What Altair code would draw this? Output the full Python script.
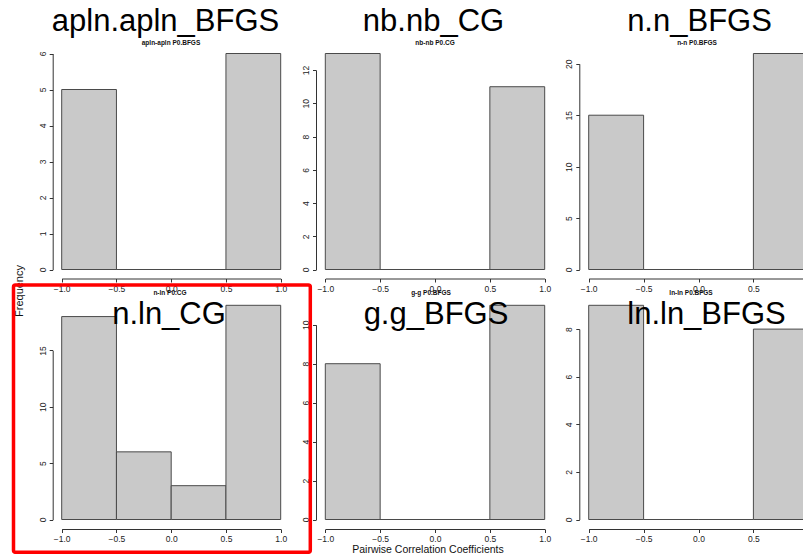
import altair as alt
import pandas as pd

# ---------------- data ----------------
bin_edges = [-1.0, -0.5, 0.0, 0.5, 1.0]
panel_titles = ["apln.apln_BFGS", "nb.nb_CG", "n.n_BFGS", "n.ln_CG", "g.g_BFGS", "ln.ln_BFGS"]
panel_subtitles = ["apln-apln P0.BFGS", "nb-nb P0.CG", "n-n P0.BFGS",
                   "n-ln P0.CG", "g-g P0.BFGS", "ln-ln P0.BFGS"]
counts_apln = [5, 0, 0, 6]
counts_nb = [13, 0, 0, 11]
counts_n = [15, 0, 0, 21]
counts_nln = [18, 6, 3, 19]
counts_g = [8, 0, 0, 11]
counts_ln = [9, 0, 0, 8]
all_counts = [counts_apln, counts_nb, counts_n, counts_nln, counts_g, counts_ln]
y_ticks = [[0, 1, 2, 3, 4, 5, 6], [0, 2, 4, 6, 8, 10, 12], [0, 5, 10, 15, 20],
           [0, 5, 10, 15], [0, 2, 4, 6, 8, 10], [0, 2, 4, 6, 8]]
x_ticks = [-1.0, -0.5, 0.0, 0.5, 1.0]
y_label = "Frequency"
x_label = "Pairwise Correlation Coefficients"

# ---------------- layout (pixels) ----------------
W, H = 803, 554
# per column: x-range left, x-range right, y-axis line x
col_x = [(61.7, 280.7, 52.7), (325.3, 544.7, 316.0), (588.7, 808.3, 579.3)]
# per row: y of zero, y of max count, x-axis line y
row_y = [(269.5, 53.5, 278.5), (519.5, 305.3, 529.0)]
title_pos = [(165.5, 31), (433.5, 31), (699.5, 31), (169, 324), (436, 324), (706.5, 324)]
sub_pos = [(171, 42.5), (435, 42.5), (697, 42.5), (170, 293.3), (431, 293.3), (691, 293.3)]
FONT = "Liberation Sans"
FILL = "#C9C9C9"
EDGE = "#4a4a4a"
AXC = "#333333"

layers = []
for i, counts in enumerate(all_counts):
    r, c = divmod(i, 3)
    y0, ymax, axy = row_y[r]
    xl, xr, axx = col_x[c]
    top = max(counts)
    last = y_ticks[i][-1]
    y_last = y0 - (y0 - ymax) * last / top
    df = pd.DataFrame({
        "x0": bin_edges[:-1],
        "x1": bin_edges[1:],
        "n": counts,
        "base": [0] * len(counts),
    })
    bars = alt.Chart(df).mark_rect(fill=FILL, stroke=EDGE, strokeWidth=1).encode(
        x=alt.X("x0:Q", title=None,
                scale=alt.Scale(domain=[-1, 1], range=[xl, xr], nice=False, zero=False),
                axis=alt.Axis(orient="bottom", offset=axy - H, values=x_ticks, format=".1f",
                              grid=False, labelFlush=False, labelOverlap=False, labelBound=False,
                              tickSize=3.5, labelPadding=2, labelFontSize=8.5, labelFont=FONT,
                              labelColor="#222222", domainColor=AXC, tickColor=AXC,
                              domainWidth=1, tickWidth=1)),
        x2="x1:Q",
        y=alt.Y("n:Q", title=None,
                scale=alt.Scale(domain=[0, last], range=[y0, y_last], nice=False, zero=False),
                axis=alt.Axis(orient="left", offset=-axx, values=y_ticks[i], format="d",
                              grid=False, labelFlush=False, labelOverlap=False, labelBound=False,
                              labelAngle=-90, labelAlign="center", labelBaseline="bottom",
                              tickSize=3.5, labelPadding=2, labelFontSize=8.5, labelFont=FONT,
                              labelColor="#222222", domainColor=AXC, tickColor=AXC,
                              domainWidth=1, tickWidth=1)),
        y2="base:Q",
    )
    layers.append(bars)

texts = []
for i in range(6):
    tx, ty = sub_pos[i]
    texts.append(
        alt.Chart(pd.DataFrame({"t": [panel_subtitles[i]]})).mark_text(
            font=FONT, fontSize=6.5, fontWeight="bold", color="#111111",
            align="center", baseline="middle"
        ).encode(x=alt.value(tx), y=alt.value(ty), text="t:N")
    )
for i in range(6):
    tx, ty = title_pos[i]
    texts.append(
        alt.Chart(pd.DataFrame({"t": [panel_titles[i]]})).mark_text(
            font=FONT, fontSize=31, color="black", align="center", baseline="alphabetic"
        ).encode(x=alt.value(tx), y=alt.value(ty), text="t:N")
    )

texts.append(
    alt.Chart(pd.DataFrame({"t": [y_label]})).mark_text(
        font=FONT, fontSize=11, color="#111111", align="center", baseline="middle", angle=270
    ).encode(x=alt.value(20), y=alt.value(291), text="t:N")
)
texts.append(
    alt.Chart(pd.DataFrame({"t": [x_label]})).mark_text(
        font=FONT, fontSize=10.5, color="#111111", align="center", baseline="middle"
    ).encode(x=alt.value(428), y=alt.value(549.5), text="t:N")
)

highlight = alt.Chart(pd.DataFrame({"t": ["box"]})).mark_rect(
    fill="transparent", stroke="#FF0000", strokeWidth=3.5, cornerRadius=2
).encode(x=alt.value(13.5), x2=alt.value(310.3), y=alt.value(285), y2=alt.value(552.3))

chart = alt.layer(*layers, *texts, highlight).resolve_scale(
    x="independent", y="independent"
).resolve_axis(
    x="independent", y="independent"
).properties(
    width=W, height=H, padding=0,
    autosize=alt.AutoSizeParams(type="none"),
    background="white",
).configure_view(stroke=None)

chart.save("out.html", embed_options={"renderer": "svg", "actions": False})
